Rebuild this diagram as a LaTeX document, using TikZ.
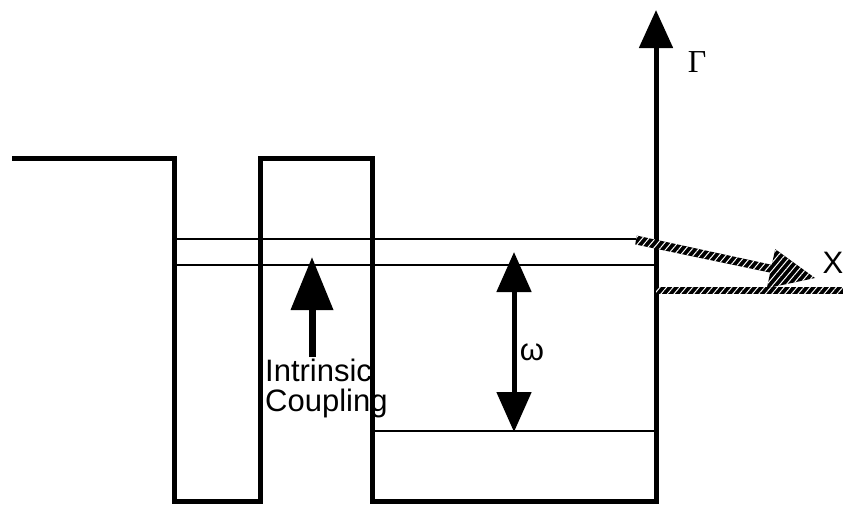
\documentclass[tikz,border=0pt]{standalone}
\usepackage{fontspec}
\setmainfont{Liberation Sans}
\newfontfamily\serifgreek{Liberation Serif}
\usetikzlibrary{arrows.meta,patterns.meta}
\tikzset{
  wall/.style={line width=5pt, line join=miter},
  level/.style={line width=2pt},
  hatch/.style={fill=black, postaction={pattern={Lines[angle=50,distance=5pt,line width=1pt]}, pattern color=white}},
  lbl/.style={font=\fontsize{31}{30}\selectfont, inner sep=0pt}
}
\begin{document}
\begin{tikzpicture}[x=1pt,y=-1pt]
\useasboundingbox (0,0) rectangle (843,506);
\coordinate (gtip) at (656,10);
\coordinate (wlb) at (174,501);
\coordinate (wrb) at (372,501);
\coordinate (corner) at (656,501);
\draw[wall, -{Triangle[length=38pt,width=33pt]}] (12,158) -- (174,158) -- (wlb) -- (260,501) -- (260,158) -- (372,158) -- (wrb) -- (corner) -- (gtip);
\node[lbl, font=\fontsize{32}{32}\serifgreek] (gamma) at (697,62) {Γ};
\coordinate (a1) at (174,239);
\coordinate (a2) at (636,239);
\coordinate (b1) at (174,265);
\coordinate (b2) at (656,265);
\coordinate (c1) at (372,431);
\coordinate (c2) at (656,431);
\draw[level] (a1) -- (a2);
\draw[level] (b1) -- (b2);
\draw[level] (c1) -- (c2);
\coordinate (ictail) at (312,357);
\coordinate (ictip) at (312,257);
\draw[line width=7pt, -{Triangle[length=53pt,width=41pt]}] (ictail) -- (ictip);
\node[lbl, anchor=west, align=left] (coupling) at (265,388) {Intrinsic\\Coupling};
\coordinate (wtop) at (514,252);
\coordinate (wbot) at (514,432);
\draw[line width=5pt, {Triangle[length=40pt,width=34pt]}-{Triangle[length=40pt,width=34pt]}] (wtop) -- (wbot);
\node[lbl] (omega) at (532,352) {ω};
\fill[hatch] (636.8,235.6) -- (771.8,264.8) -- (775.2,249.1) -- (815,278) -- (766.8,288.3) -- (770.2,272.6) -- (635.2,244.4) -- cycle;
\fill[hatch] (656,286.5) rectangle (843,293.5);
\node[lbl, font=\fontsize{31}{31}\selectfont] (xlbl) at (833,263) {X};
\end{tikzpicture}
\end{document}
